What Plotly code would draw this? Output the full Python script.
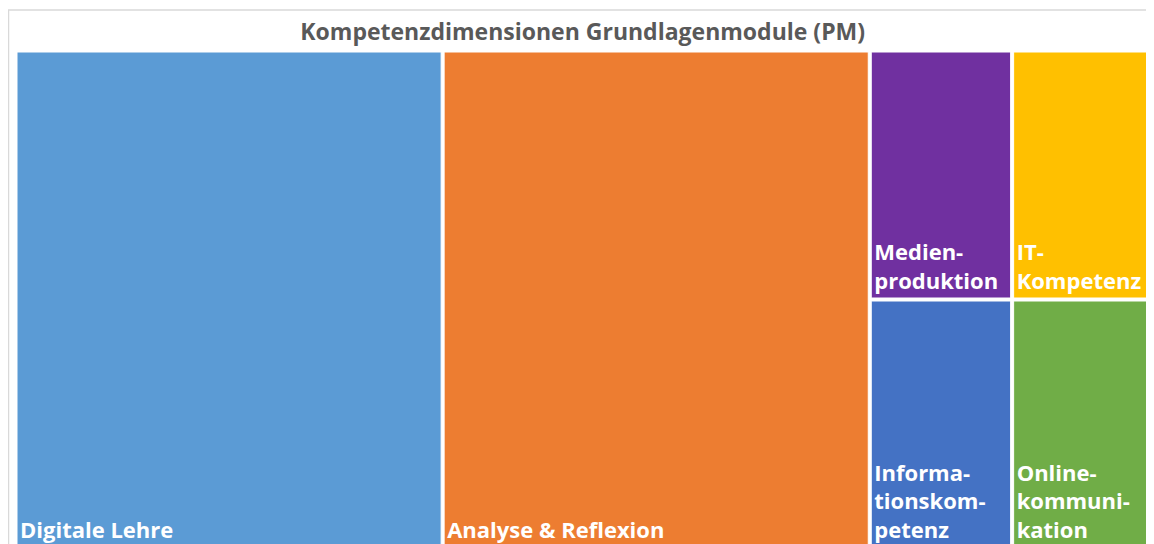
import plotly.graph_objects as go

labels = ["Digitale Lehre", "Analyse & Reflexion", "Medienproduktion",
          "IT-Kompetenz", "Informationskompetenz", "Onlinekommunikation"]
display_text = ["Digitale Lehre", "Analyse & Reflexion", "Medien-<br>produktion",
                "IT-<br>Kompetenz", "Informa-<br>tionskom-<br>petenz", "Online-<br>kommuni-<br>kation"]
values = [6, 6, 1, 1, 1, 1]
colors = ["#5B9BD5", "#ED7D31", "#7030A0", "#FFC000", "#4472C4", "#70AD47"]

W, H = 1154, 544
L, R, T, B = 9, 9, 44, 5
pw, ph = W - L - R, H - T - B

fig = go.Figure(go.Treemap(
    labels=labels,
    parents=[""] * len(labels),
    values=values,
    text=["<b>" + t + "</b>" for t in display_text],
    texttemplate="%{text}",
    textposition="bottom left",
    textfont=dict(family="Open Sans", size=22, color="white"),
    marker=dict(colors=colors, line=dict(color="white", width=1), pad=dict(t=0, l=0, r=0, b=0)),
    tiling=dict(packing="squarify"),
    pathbar=dict(visible=False),
    sort=False,
    hoverinfo="label+value",
))

fig.update_layout(
    width=W, height=H,
    margin=dict(l=L, r=R, t=T, b=B),
    paper_bgcolor="white",
    title=dict(text="<b>Kompetenzdimensionen Grundlagenmodule (PM)</b>",
               x=0.498, xanchor="center", y=1 - 24 / H, yanchor="middle",
               font=dict(family="Open Sans", size=23, color="#595959")),
    shapes=[dict(type="rect", xref="paper", yref="paper",
                 x0=(0.5 - L) / pw, x1=1.02, y0=-0.05, y1=(H - B - 2) / ph,
                 line=dict(color="#d9d9d9", width=1.5), fillcolor="rgba(0,0,0,0)", layer="below")],
)

fig.write_html("out.html")
